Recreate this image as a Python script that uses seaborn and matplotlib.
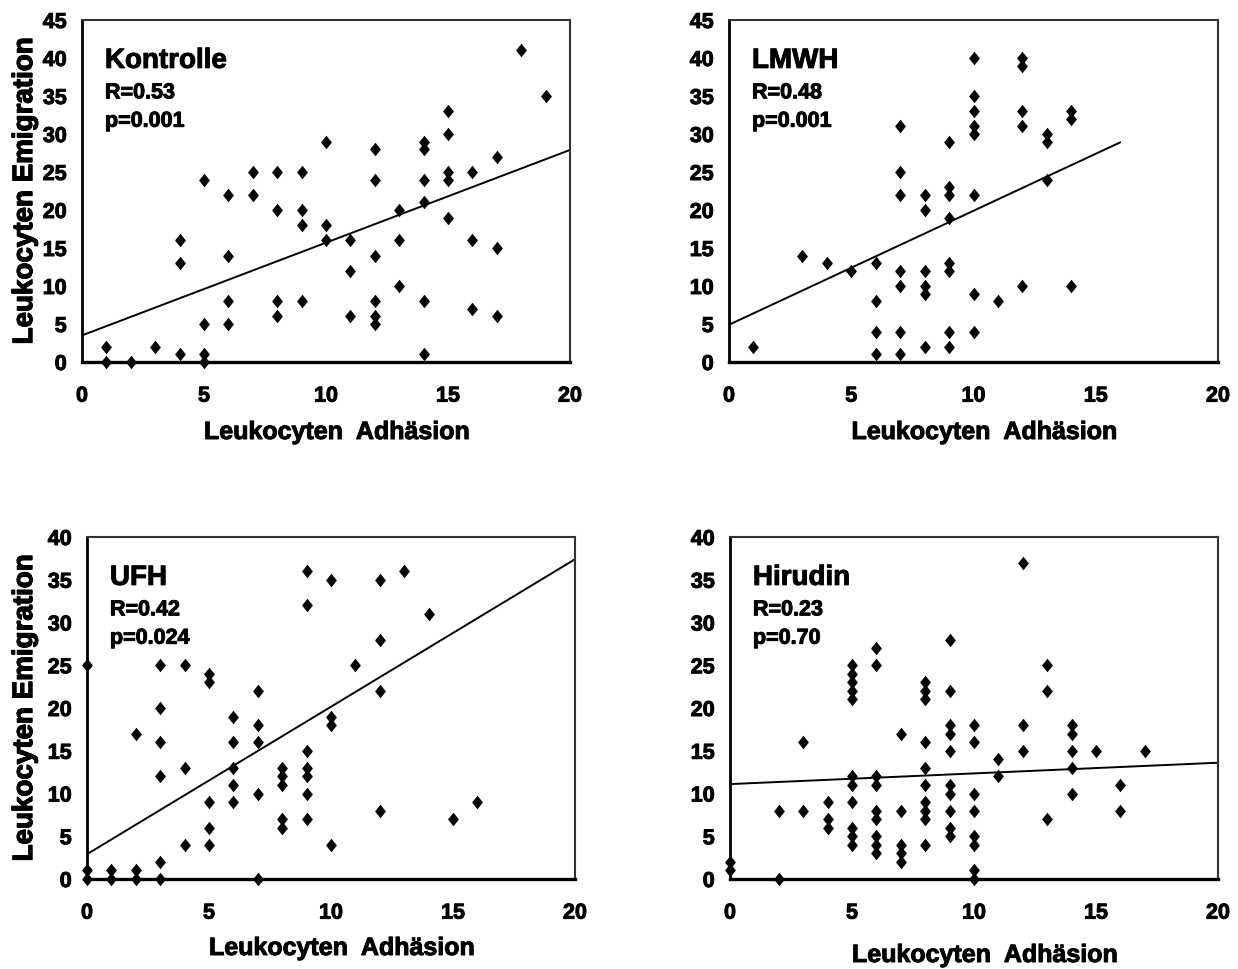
import numpy as np
import pandas as pd
import matplotlib
matplotlib.use("Agg")
import matplotlib.pyplot as plt
import matplotlib.patheffects as pe
import seaborn as sns

# ---------------- data ----------------
kon_x = [1, 1, 2, 3, 4, 4, 4, 5, 5, 5, 5, 6, 6, 6, 6, 7, 7, 8, 8, 8, 8,
         9, 9, 9, 9, 10, 10, 10, 11, 11, 11, 12, 12, 12, 12, 12, 12,
         13, 13, 13, 14, 14, 14, 14, 14, 14, 15, 15, 15, 15, 15,
         16, 16, 16, 17, 17, 17, 18, 19]
kon_y = [2, 0, 0, 2, 16, 13, 1, 24, 5, 1, 0, 22, 14, 8, 5, 25, 22, 25, 20, 8, 6,
         25, 20, 18, 8, 29, 18, 16, 16, 12, 6, 28, 24, 14, 8, 6, 5,
         20, 16, 10, 29, 28, 24, 21, 8, 1, 33, 30, 25, 24, 19,
         25, 16, 7, 27, 15, 6, 41, 35]

lmwh_x = [1, 3, 4, 5, 6, 6, 6, 6, 7, 7, 7, 7, 7, 7, 7, 8, 8, 8, 8, 8, 8,
          9, 9, 9, 9, 9, 9, 9, 9, 10, 10, 10, 10, 10, 10, 10, 10, 11,
          12, 12, 12, 12, 12, 13, 13, 13, 14, 14, 14]
lmwh_y = [2, 14, 13, 12, 13, 8, 4, 1, 31, 25, 22, 12, 10, 4, 1, 22, 20, 12, 10, 9, 2,
          29, 23, 22, 19, 13, 12, 4, 2, 40, 35, 33, 31, 30, 22, 9, 4, 8,
          40, 39, 33, 31, 10, 30, 29, 24, 33, 32, 10]

ufh_x = [0, 0, 0, 1, 1, 2, 2, 2, 3, 3, 3, 3, 3, 3, 4, 4, 4, 5, 5, 5, 5, 5,
         6, 6, 6, 6, 6, 7, 7, 7, 7, 7, 8, 8, 8, 8, 8, 9, 9, 9, 9, 9, 9, 9,
         10, 10, 10, 10, 11, 12, 12, 12, 12, 13, 14, 15, 16]
ufh_y = [25, 1, 0, 1, 0, 17, 1, 0, 25, 20, 16, 12, 2, 0, 25, 13, 4, 24, 23, 9, 6, 4,
         19, 16, 13, 11, 9, 22, 18, 16, 10, 0, 13, 12, 11, 7, 6, 36, 32, 15, 13, 12, 10, 7,
         35, 19, 18, 4, 25, 35, 28, 22, 8, 36, 31, 7, 9]

hir_x = [0, 0, 2, 2, 3, 3, 4, 4, 4,
         5, 5, 5, 5, 5, 5, 5, 5, 5, 5, 5,
         6, 6, 6, 6, 6, 6, 6, 6, 6,
         7, 7, 7, 7, 7,
         8, 8, 8, 8, 8, 8, 8, 8, 8, 8,
         9, 9, 9, 9, 9, 9, 9, 9, 9, 9,
         10, 10, 10, 10, 10, 10, 10, 10,
         11, 11, 12, 12, 12, 13, 13, 13, 14, 14, 14, 14, 14, 15, 16, 16, 17]
hir_y = [2, 1, 8, 0, 16, 8, 9, 7, 6,
         25, 24, 23, 22, 21, 12, 11, 9, 6, 5, 4,
         27, 25, 12, 11, 8, 7, 5, 4, 3,
         17, 8, 4, 3, 2,
         23, 22, 21, 16, 13, 11, 9, 8, 7, 4,
         28, 22, 18, 17, 15, 11, 10, 8, 6, 5,
         18, 16, 10, 8, 5, 4, 1, 0,
         14, 12, 37, 18, 15, 25, 22, 7, 18, 17, 15, 13, 10, 15, 11, 8, 15]

group_names = ["Kontrolle", "LMWH", "UFH", "Hirudin"]
r_labels = ["R=0.53", "R=0.48", "R=0.42", "R=0.23"]
p_labels = ["p=0.001", "p=0.001", "p=0.024", "p=0.70"]
# regression line: intercept, slope, x-range
fit_intercept = [3.5, 4.9, 2.9, 11.1]
fit_slope = [1.22, 1.5, 1.725, 0.125]
fit_xmax = [20, 16, 20, 20]
y_max = [45, 45, 40, 40]
x_ticks = [0, 5, 10, 15, 20]
x_label = "Leukocyten  Adhäsion"
y_label = "Leukocyten Emigration"

# ---------------- style ----------------
sns.set_style("white")
plt.rcParams["font.family"] = ["Liberation Sans", "DejaVu Sans"]
plt.rcParams["font.weight"] = "bold"
plt.rcParams["axes.labelweight"] = "bold"
plt.rcParams["text.color"] = "black"
plt.rcParams["axes.labelcolor"] = "black"
plt.rcParams["xtick.color"] = "black"
plt.rcParams["ytick.color"] = "black"

W, H = 1238, 969
fig = plt.figure(figsize=(W / 100, H / 100), dpi=100)

# axes boxes in pixels: left, right, top, bottom
boxes = [(82, 570, 20, 362), (729, 1218, 20, 362),
         (87, 575, 537, 879), (730, 1218, 537, 879)]
xlabel_y = [432, 432, 948, 955]

datasets = [(kon_x, kon_y), (lmwh_x, lmwh_y), (ufh_x, ufh_y), (hir_x, hir_y)]

# diamond marker (slightly narrower than tall)
diamond = [(0, 1), (0.8, 0), (0, -1), (-0.8, 0), (0, 1)]
heavy = [pe.withStroke(linewidth=0.7, foreground="black")]

for i, (xs, ys) in enumerate(datasets):
    l, r, t, b = boxes[i]
    ax = fig.add_axes([l / W, 1 - b / H, (r - l) / W, (b - t) / H])
    df = pd.DataFrame({"x": xs, "y": ys})
    sns.scatterplot(data=df, x="x", y="y", ax=ax, marker=diamond, s=95,
                    color="black", edgecolor="black", linewidth=0,
                    clip_on=False, zorder=3)
    lx = np.array([0, fit_xmax[i]], dtype=float)
    ly = fit_intercept[i] + fit_slope[i] * lx
    sns.lineplot(x=lx, y=ly, ax=ax, color="black", linewidth=1.4, zorder=2)

    ax.set_xlim(0, 20)
    ax.set_ylim(0, y_max[i])
    ax.set_xticks(x_ticks)
    ax.set_yticks(np.arange(0, y_max[i] + 1, 5))
    ax.tick_params(axis="both", which="major", labelsize=15.5, length=5,
                   width=1.5, color="black", direction="out")
    ax.tick_params(axis="x", pad=11, length=6)
    ax.tick_params(axis="y", pad=6)
    for lab in ax.get_xticklabels() + ax.get_yticklabels():
        lab.set_fontweight("bold")
        lab.set_path_effects(heavy)

    for side in ["left", "bottom"]:
        ax.spines[side].set_color("black")
        ax.spines[side].set_linewidth(2.0)
        ax.spines[side].set_visible(True)
    for side in ["top", "right"]:
        ax.spines[side].set_color("#333333")
        ax.spines[side].set_linewidth(1.5)
        ax.spines[side].set_visible(True)
    ax.spines["bottom"].set_linewidth(2.4)

    ax.set_xlabel(x_label, fontsize=18, fontweight="bold")
    ax.set_ylabel(y_label, fontsize=20, fontweight="bold")
    ax.xaxis.label.set_path_effects(heavy)
    ax.yaxis.label.set_path_effects(heavy)
    # label positions
    cx = ((l + r) / 2 + 11 - l) / (r - l)
    ax.xaxis.set_label_coords(cx, -(xlabel_y[i] - b) / (b - t))
    ax.yaxis.set_label_coords(-(l - 25) / (r - l), 0.5)
    ax.xaxis.label.set_verticalalignment("center")
    ax.yaxis.label.set_verticalalignment("center")

    ax.text(0.047, 0.860, group_names[i], transform=ax.transAxes,
            fontsize=20, fontweight="bold", va="baseline", ha="left",
            path_effects=heavy)
    ax.text(0.047, 0.771, r_labels[i], transform=ax.transAxes,
            fontsize=15.5, fontweight="bold", va="baseline", ha="left",
            path_effects=heavy)
    ax.text(0.047, 0.688, p_labels[i], transform=ax.transAxes,
            fontsize=15.5, fontweight="bold", va="baseline", ha="left",
            path_effects=heavy)

fig.savefig("out.png", dpi=100, facecolor="white")
